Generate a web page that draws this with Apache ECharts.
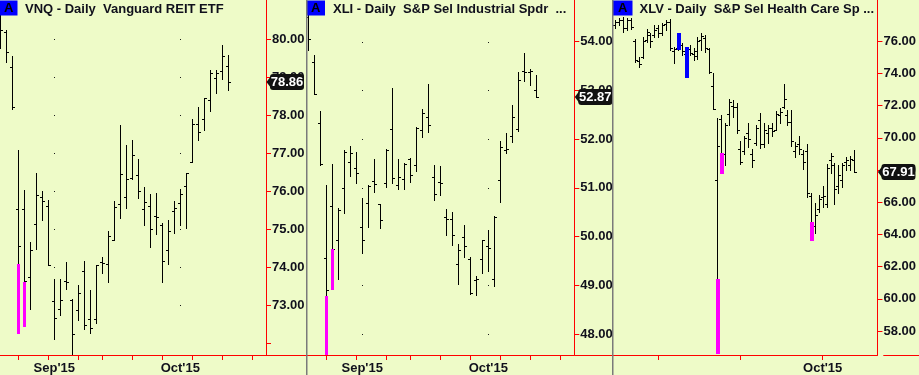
<!DOCTYPE html>
<html>
<head>
<meta charset="utf-8">
<script src="https://cdn.jsdelivr.net/npm/echarts@6/dist/echarts.min.js"></script>
<style>
html,body{margin:0;padding:0;background:#eefbc8;}
#chart{width:919px;height:375px;}
</style>
</head>
<body>
<div id="chart"></div>
<script>
// ---------- categories (trading days on each axis) ----------
const daysAugOct = ['2015-08-19','2015-08-20','2015-08-21','2015-08-24','2015-08-25','2015-08-26','2015-08-27','2015-08-28','2015-08-31',
 '2015-09-01','2015-09-02','2015-09-03','2015-09-04','2015-09-08','2015-09-09','2015-09-10','2015-09-11','2015-09-14','2015-09-15','2015-09-16',
 '2015-09-17','2015-09-18','2015-09-21','2015-09-22','2015-09-23','2015-09-24','2015-09-25','2015-09-28','2015-09-29','2015-09-30',
 '2015-10-01','2015-10-02','2015-10-05','2015-10-06','2015-10-07','2015-10-08','2015-10-09','2015-10-12','2015-10-13',
 '2015-10-14','2015-10-15','2015-10-16','2015-10-19','2015-10-20','2015-10-21'];
const daysJulOct = ['2015-07-17','2015-07-20','2015-07-21','2015-07-22','2015-07-23','2015-07-24','2015-07-27','2015-07-28','2015-07-29','2015-07-30','2015-07-31',
 '2015-08-03','2015-08-04','2015-08-05','2015-08-06','2015-08-07','2015-08-10','2015-08-11','2015-08-12','2015-08-13','2015-08-14',
 '2015-08-17','2015-08-18','2015-08-19','2015-08-20','2015-08-21','2015-08-24','2015-08-25','2015-08-26','2015-08-27','2015-08-28','2015-08-31',
 '2015-09-01','2015-09-02','2015-09-03','2015-09-04','2015-09-08','2015-09-09','2015-09-10','2015-09-11','2015-09-14','2015-09-15','2015-09-16',
 '2015-09-17','2015-09-18','2015-09-21','2015-09-22','2015-09-23','2015-09-24','2015-09-25','2015-09-28','2015-09-29','2015-09-30',
 '2015-10-01','2015-10-02','2015-10-05','2015-10-06','2015-10-07','2015-10-08','2015-10-09','2015-10-12','2015-10-13',
 '2015-10-14','2015-10-15','2015-10-16','2015-10-19','2015-10-20','2015-10-21'];

// ---------- tick / label positions (dates) ----------
const weekTicks = ['2015-08-24','2015-08-31','2015-09-08','2015-09-14','2015-09-21','2015-09-28','2015-10-05','2015-10-12','2015-10-19'];
const monthLabelsAB = ['2015-09-01','2015-10-01'];
const monthTicksC = ['2015-08-03','2015-09-01','2015-10-01'];
const monthLabelsC = ['2015-10-01'];

// ---------- VNQ ----------
const vnqOpen  = [80.50,80.20,79.26,75.53,75.53,73.74,75.13,75.84,75.61,73.11,72.90,73.65,73.14,72.88,73.90,72.63,72.63,74.13,74.09,74.72,75.67,75.84,76.34,76.43,75.53,75.61,75.34,75.10,74.44,75.48,75.68,76.14,76.78,77.78,77.90,78.40,78.97,79.17,79.30];
const vnqHigh  = [80.72,80.24,79.56,77.09,76.03,74.66,76.48,76.01,75.77,73.69,73.68,74.13,73.16,73.53,74.17,73.40,74.05,74.28,74.96,75.75,77.74,77.22,77.35,76.84,76.12,75.93,75.96,75.16,75.24,75.73,76.07,76.49,77.90,78.21,78.45,79.19,79.19,79.85,79.59];
const vnqLow   = [79.77,79.41,78.17,72.26,72.46,72.89,74.49,75.23,74.05,72.11,72.74,73.42,71.71,72.61,72.37,72.28,72.53,73.84,73.60,74.72,75.29,75.55,76.32,75.82,75.11,74.54,74.87,73.60,74.08,74.91,75.12,75.04,76.76,77.35,77.60,78.12,78.59,78.96,78.67];
const vnqClose = [80.24,79.66,78.22,74.56,73.65,74.46,75.90,75.75,74.07,72.66,73.14,73.60,72.24,73.31,72.48,72.40,74.05,74.10,74.81,75.58,76.45,76.32,76.95,76.01,75.72,75.00,75.32,74.17,74.94,75.55,75.92,76.47,77.76,77.57,78.44,79.12,79.12,79.56,78.86];
const vnqMagenta = [['2015-08-24',74.08,72.26],['2015-08-25',73.60,72.46]];
const vnqTicks  = [72,73,74,75,76,77,78,79,80];
const vnqLabels = [73,74,75,76,77,78,79,80];

// ---------- XLI ----------
const xliOpen  = [54.50,53.59,52.33,49.57,50.62,49.94,50.99,51.54,51.40,50.20,50.68,51.15,50.66,51.11,52.21,51.06,51.18,51.59,51.47,52.19,52.45,51.22,51.13,50.40,50.37,49.43,50.00,49.54,49.11,49.55,49.81,49.14,51.16,51.78,52.06,52.21,53.40,53.37,53.00];
const xliHigh  = [54.60,53.73,52.58,51.06,51.49,50.58,51.78,51.85,51.74,50.80,51.06,51.59,50.67,51.79,53.04,51.59,51.52,51.61,52.24,52.62,53.13,51.47,51.45,50.57,50.51,49.84,50.24,49.59,49.19,49.94,50.14,50.42,51.96,52.12,52.71,53.38,53.76,53.43,53.32];
const xliLow   = [53.84,52.92,51.46,47.60,48.93,49.14,50.48,51.25,51.11,49.67,50.20,50.92,50.18,51.02,51.11,50.98,50.98,51.12,51.35,52.05,52.15,50.75,50.85,50.03,49.83,49.03,49.59,48.82,48.80,49.25,49.29,48.99,50.70,51.72,51.95,52.17,53.20,53.11,52.87];
const xliClose = [54.05,52.93,51.48,48.90,49.75,50.55,51.74,51.72,51.30,49.93,51.04,51.08,50.35,51.78,51.20,51.23,51.49,51.26,52.22,52.53,52.29,50.87,51.11,50.36,50.03,49.72,49.81,48.84,49.14,49.93,49.76,50.41,51.84,51.80,52.46,53.21,53.38,53.40,52.87];
const xliMagenta = [['2015-08-24',48.78,47.60],['2015-08-25',49.74,48.93]];
const xliTicks  = [48,49,50,51,52,53,54];
const xliLabels = [48,49,50,51,52,53,54];

// ---------- XLV ----------
const xlvOpen  = [77.00,77.20,77.30,76.80,77.30,76.00,74.80,75.00,76.10,76.40,76.40,76.80,76.50,77.10,77.20,75.40,75.60,75.80,75.20,75.50,75.20,75.10,76.10,76.20,75.50,73.20,67.40,71.20,69.00,71.50,72.00,71.90,69.30,69.20,70.30,69.00,69.70,71.10,69.60,70.30,70.60,70.50,71.40,71.90,71.40,71.00,69.20,69.60,69.00,69.20,66.40,64.50,65.60,66.30,65.90,68.60,68.30,67.00,67.40,68.50,68.30,68.60];
const xlvHigh  = [77.32,77.43,77.53,77.43,77.43,76.12,75.04,76.29,76.75,76.50,77.01,77.01,77.12,77.32,77.37,75.66,76.53,75.88,75.63,75.77,75.57,76.29,76.53,76.39,75.57,74.01,71.21,71.42,70.94,72.40,72.36,72.15,69.80,70.11,70.90,69.29,70.80,71.53,70.90,70.80,70.90,71.67,71.84,73.35,71.73,71.73,69.76,70.13,69.25,69.62,66.59,65.97,66.45,67.03,68.37,69.04,68.46,68.31,68.42,68.83,68.87,69.25];
const xlvLow   = [76.81,77.01,76.60,76.70,76.75,74.73,74.42,74.94,75.98,75.63,76.29,76.25,76.39,76.70,75.46,74.63,75.46,75.15,73.80,75.15,74.84,74.88,75.46,75.35,74.01,71.77,56.61,67.83,68.31,70.80,71.28,70.32,68.37,68.98,69.45,68.21,69.56,69.35,69.41,69.70,70.12,70.49,70.90,71.84,70.80,69.49,68.79,69.00,68.05,66.34,63.65,64.07,65.41,65.72,65.72,67.80,65.89,66.55,66.96,68.00,68.00,67.90];
const xlvClose = [77.20,77.30,76.80,77.30,76.90,74.84,74.60,76.00,76.60,76.00,76.70,76.50,77.00,77.20,75.60,75.50,76.40,75.40,75.50,75.30,75.40,76.00,76.30,75.60,74.10,71.80,69.50,68.90,70.80,72.20,71.90,70.50,68.50,70.00,69.90,68.60,70.60,69.60,70.50,70.60,70.40,71.50,71.60,72.40,71.00,69.80,69.50,69.30,68.50,66.60,64.30,65.20,66.20,66.40,68.10,68.90,66.80,67.70,68.30,68.60,68.70,67.91];
const xlvMagenta = [['2015-08-24',61.21,56.61],['2015-08-25',69.04,67.83],['2015-09-28',64.79,63.65]];
const xlvBlue    = [['2015-08-10',76.53,75.50],['2015-08-12',75.63,73.80]];
const xlvTicks  = [58,60,62,64,66,68,70,72,74,76];
const xlvLabels = [58,60,62,64,66,68,70,72,74,76];

const titles = ['VNQ - Daily  Vanguard REIT ETF', 'XLI - Daily  S&P Sel Industrial Spdr  ...', 'XLV - Daily  S&P Sel Health Care Sp ...'];

// ---------- styling ----------
const BG = '#eefbc8', RED = '#ff0000', TXT = '#10101c', MAG = '#ff00ff', BLUE = '#0000ff';
const FONT = 'Arial, "Liberation Sans", sans-serif';

const panels = [
  {days: daysAugOct, o: vnqOpen, h: vnqHigh, l: vnqLow, c: vnqClose, hl: [[vnqMagenta, MAG]], yTicks: vnqTicks, yLabels: vnqLabels,
   xTicks: weekTicks, xLabels: monthLabelsAB, dotCols: monthLabelsAB,
   grid: {left: 0, width: 266}, xmin: -0.05, xmax: 44.28, ymin: 71.69, ymax: 81.03, hw: 3, right: 306},
  {days: daysAugOct, o: xliOpen, h: xliHigh, l: xliLow, c: xliClose, hl: [[xliMagenta, MAG]], yTicks: xliTicks, yLabels: xliLabels,
   xTicks: weekTicks, xLabels: monthLabelsAB, dotCols: monthLabelsAB,
   grid: {left: 307, width: 267.3}, xmin: -0.2, xmax: 44.33, ymin: 47.57, ymax: 54.856, hw: 3, right: 612},
  {days: daysJulOct, o: xlvOpen, h: xlvHigh, l: xlvLow, c: xlvClose, hl: [[xlvMagenta, MAG],[xlvBlue, BLUE]], yTicks: xlvTicks, yLabels: xlvLabels,
   xTicks: monthTicksC, xLabels: monthLabelsC, dotCols: [],
   grid: {left: 613, width: 270.3}, xmin: -0.575, xmax: 67, ymin: 56.51, ymax: 78.566, hw: 4, right: 919}
];

const MON = ['Jan','Feb','Mar','Apr','May','Jun','Jul','Aug','Sep','Oct','Nov','Dec'];
function monthLabel(d){ return MON[parseInt(d.slice(5,7),10)-1] + "'" + d.slice(2,4); }

function ohlcRender(params, api){
  const i = api.value(0);
  const pO = api.coord([i, api.value(1)]);
  const pH = api.coord([i, api.value(2)]);
  const pL = api.coord([i, api.value(3)]);
  const pC = api.coord([i, api.value(4)]);
  const x = Math.round(pH[0]) + 0.5;
  const st = {stroke: '#000', lineWidth: 1};
  const yo = Math.round(pO[1]) + 0.5, yc = Math.round(pC[1]) + 0.5;
  return {type: 'group', children: [
    {type: 'line', shape: {x1: x, y1: Math.round(pH[1]), x2: x, y2: Math.round(pL[1]) + 1}, style: st},
    {type: 'line', shape: {x1: x - 2.5, y1: yo, x2: x, y2: yo}, style: st},
    {type: 'line', shape: {x1: x, y1: yc, x2: x + 2.5, y2: yc}, style: st}
  ]};
}
function hlRender(color, w){
  return function(params, api){
    const i = api.value(0);
    const a = api.coord([i, api.value(1)]);
    const b = api.coord([i, api.value(2)]);
    const cx = Math.round(a[0]);
    return {type: 'rect', shape: {x: cx - 1, y: Math.round(a[1]), width: w, height: Math.round(b[1]) - Math.round(a[1]) + 1}, style: {fill: color}};
  };
}
function dotRender(params, api){
  const p = api.coord([api.value(0), api.value(1)]);
  return {type: 'rect', shape: {x: Math.round(p[0]), y: Math.round(p[1]), width: 1, height: 1}, style: {fill: '#1a1a1a'}};
}
function tagRender(params, api){
  const p = api.coord([api.value(0), api.value(1)]);
  const cs = params.coordSys;
  const ax = cs.x + cs.width;
  const y = Math.round(p[1]);
  return {type: 'group', children: [
    {type: 'polygon', shape: {points: [[ax + 0.5, y], [ax + 5, y - 6], [ax + 5, y + 6]]}, style: {fill: '#111'}},
    {type: 'rect', shape: {x: ax + 4, y: y - 8, width: 34, height: 16, r: 3}, style: {fill: '#111'}},
    {type: 'text', x: ax + 21, y: y + 0.5, style: {text: api.value(1).toFixed(2), textAlign: 'center', textVerticalAlign: 'middle', fill: '#fff', font: 'bold 13px ' + FONT}}
  ]};
}

const grids = [], xAxes = [], yAxes = [], series = [], graphics = [];
panels.forEach((P, k) => {
  const idx = d => P.days.indexOf(d);
  grids.push({left: P.grid.left, width: P.grid.width, top: 0, height: 355, containLabel: false});
  xAxes.push({
    type: 'value', gridIndex: k, min: P.xmin, max: P.xmax,
    axisLine: {show: true, onZero: false, lineStyle: {color: RED, width: 1}},
    axisTick: {show: true, customValues: P.xTicks.map(idx), length: 5, lineStyle: {color: RED}},
    axisLabel: {show: true, customValues: P.xLabels.map(idx), formatter: v => monthLabel(P.days[Math.round(v)]),
      margin: 7, color: TXT, fontWeight: 'bold', fontSize: 13, fontFamily: FONT},
    splitLine: {show: false}
  });
  yAxes.push({
    type: 'value', gridIndex: k, position: 'right', min: P.ymin, max: P.ymax,
    axisLine: {show: true, onZero: false, lineStyle: {color: RED, width: 1}},
    axisTick: {show: true, customValues: P.yTicks, length: 5, lineStyle: {color: RED}},
    axisLabel: {show: true, customValues: P.yLabels, formatter: v => Number(v).toFixed(2),
      margin: 6, color: TXT, fontWeight: 'bold', fontSize: 13, fontFamily: FONT},
    splitLine: {show: false}
  });
  // grid dots at month starts
  const dots = [];
  P.dotCols.forEach(d => P.yLabels.forEach(v => dots.push([idx(d), v])));
  series.push({type: 'custom', xAxisIndex: k, yAxisIndex: k, z: 1, silent: true, renderItem: dotRender, data: dots, encode: {x: 0, y: 1}});
  // OHLC bars
  const rows = P.o.map((o, i) => [i, o, P.h[i], P.l[i], P.c[i]]);
  series.push({type: 'custom', xAxisIndex: k, yAxisIndex: k, z: 3, silent: true, renderItem: ohlcRender, data: rows, encode: {x: 0, y: [1,2,3,4]}});
  // highlighted segments
  P.hl.forEach(([arr, col]) => {
    series.push({type: 'custom', xAxisIndex: k, yAxisIndex: k, z: 4, silent: true, renderItem: hlRender(col, P.hw),
      data: arr.map(r => [idx(r[0]), r[1], r[2]]), encode: {x: 0, y: [1,2]}});
  });
  // last price tag
  const last = P.c.length - 1;
  series.push({type: 'custom', xAxisIndex: k, yAxisIndex: k, z: 10, silent: true, clip: false, renderItem: tagRender, data: [[last, P.c[last]]], encode: {x: 0, y: 1}});

  // decorations: bottom red line extension, panel border, title
  const ax = P.grid.left + P.grid.width;
  graphics.push({type: 'line', silent: true, z: 5, shape: {x1: ax, y1: 355.5, x2: P.right, y2: 355.5}, style: {stroke: RED, lineWidth: 1}});
  const L = [0, 306.5, 613][k];
  const bw = [17.5, 18.5, 19.5][k];
  graphics.push({type: 'rect', silent: true, z: 20, shape: {x: L, y: 0.5, width: bw, height: 15}, style: {fill: BLUE}});
  graphics.push({type: 'text', silent: true, z: 21, x: L + bw / 2, y: 8.5, style: {text: 'A', textAlign: 'center', textVerticalAlign: 'middle', fill: '#000', font: 'bold 13px ' + FONT}});
  graphics.push({type: 'text', silent: true, z: 21, x: [25, 333, 639.5][k], y: 9.5, style: {text: titles[k], textAlign: 'left', textVerticalAlign: 'middle', fill: TXT, font: 'bold 13px ' + FONT}});
});
graphics.push({type: 'rect', silent: true, z: 30, shape: {x: 306, y: 0, width: 1.5, height: 375}, style: {fill: '#7a7a7a'}});
graphics.push({type: 'rect', silent: true, z: 30, shape: {x: 612, y: 0, width: 1.5, height: 375}, style: {fill: '#7a7a7a'}});

const chart = echarts.init(document.getElementById('chart'), null, {renderer: 'canvas'});
chart.setOption({
  backgroundColor: BG,
  animation: false,
  grid: grids,
  xAxis: xAxes,
  yAxis: yAxes,
  series: series,
  graphic: graphics
});
</script>
</body>
</html>
